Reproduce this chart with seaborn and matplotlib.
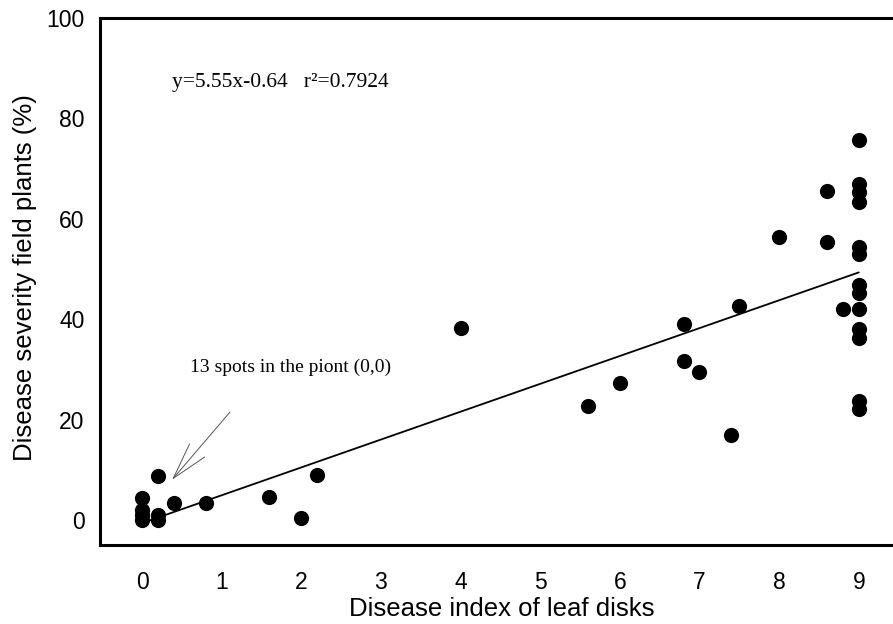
import matplotlib
matplotlib.use("Agg")
import matplotlib.pyplot as plt
import seaborn as sns
import numpy as np
import pandas as pd

# Data
disease_index = [0, 0, 0, 0, 0.2, 0.2, 0.2, 0.4, 0.8, 1.6, 2.0, 2.2,
                 4.0, 5.6, 6.0, 6.8, 6.8, 7.0, 7.4, 7.5, 8.0,
                 8.6, 8.6, 8.8,
                 9, 9, 9, 9, 9, 9, 9, 9, 9, 9, 9, 9, 9]
severity = [0, 1, 2, 4.4, 0, 1, 8.8, 3.4, 3.3, 4.6, 0.3, 9.0,
            38.2, 22.7, 27.2, 39.0, 31.7, 29.5, 16.9, 42.7, 56.3,
            65.5, 55.3, 42.0,
            75.6, 67.0, 65.4, 63.3, 54.4, 52.9, 46.8, 45.2, 42.0, 38.0, 36.3, 23.6, 22.0]

fit_slope = 5.55
fit_intercept = -0.64
fit_x = [0, 9]
x_ticks = [0, 1, 2, 3, 4, 5, 6, 7, 8, 9]
y_ticks = [0, 20, 40, 60, 80, 100]

sns.set_theme(style="white")
plt.rcParams['font.family'] = ['Liberation Sans', 'DejaVu Sans']

fig = plt.figure(figsize=(8.93, 6.24), dpi=100)
ax = fig.add_axes([100/893, 1 - 545/624, 793/893, (545 - 18)/624])

df = pd.DataFrame({"x": disease_index, "y": severity})
sns.scatterplot(data=df, x="x", y="y", ax=ax, color="black", s=120,
                edgecolor="black", linewidth=0, zorder=3)

fit_df = pd.DataFrame({"x": fit_x,
                       "y": [fit_slope * v + fit_intercept for v in fit_x]})
sns.lineplot(data=fit_df, x="x", y="y", ax=ax, color="black", linewidth=1.3)

ax.set_xlim(-0.528, 9.43)
ax.set_ylim(-5, 100)
ax.set_xticks(x_ticks)
ax.set_yticks(y_ticks)
ax.tick_params(axis="both", direction="in", length=6, width=1.5, color="black",
               labelsize=16.5, labelcolor="black")
ax.tick_params(axis="x", pad=19)
ax.tick_params(axis="y", pad=11)

for side in ["left", "bottom", "top"]:
    ax.spines[side].set_visible(True)
    ax.spines[side].set_color("black")
    ax.spines[side].set_linewidth(2.2)
ax.spines["right"].set_visible(False)

ax.set_xlabel("Disease index of leaf disks", fontsize=18.5, color="black")
ax.xaxis.set_label_coords(0.506, -0.122)
ax.xaxis.label.set_va("center")
ax.set_ylabel("Disease severity field plants (%)", fontsize=18.5, color="black")
ax.yaxis.set_label_coords(-0.0946, 0.508)
ax.yaxis.label.set_va("center")

serif = ['Liberation Serif', 'DejaVu Serif']
ax.text(0.37, 87.2, "y=5.55x-0.64   r\u00b2=0.7924", fontsize=15.5,
        family=serif, color="black", va="center", ha="left")

ax.text(0.6, 30.3, "13 spots in the piont (0,0)", fontsize=14,
        family=serif, color="black", va="center", ha="left")
ax.annotate("", xy=(0.377, 8.0), xytext=(1.105, 21.5),
            arrowprops=dict(arrowstyle="->,head_length=2.2,head_width=0.6",
                            color="#555555", lw=0.7,
                            shrinkA=0, shrinkB=0))

fig.savefig("out.png", dpi=100)
